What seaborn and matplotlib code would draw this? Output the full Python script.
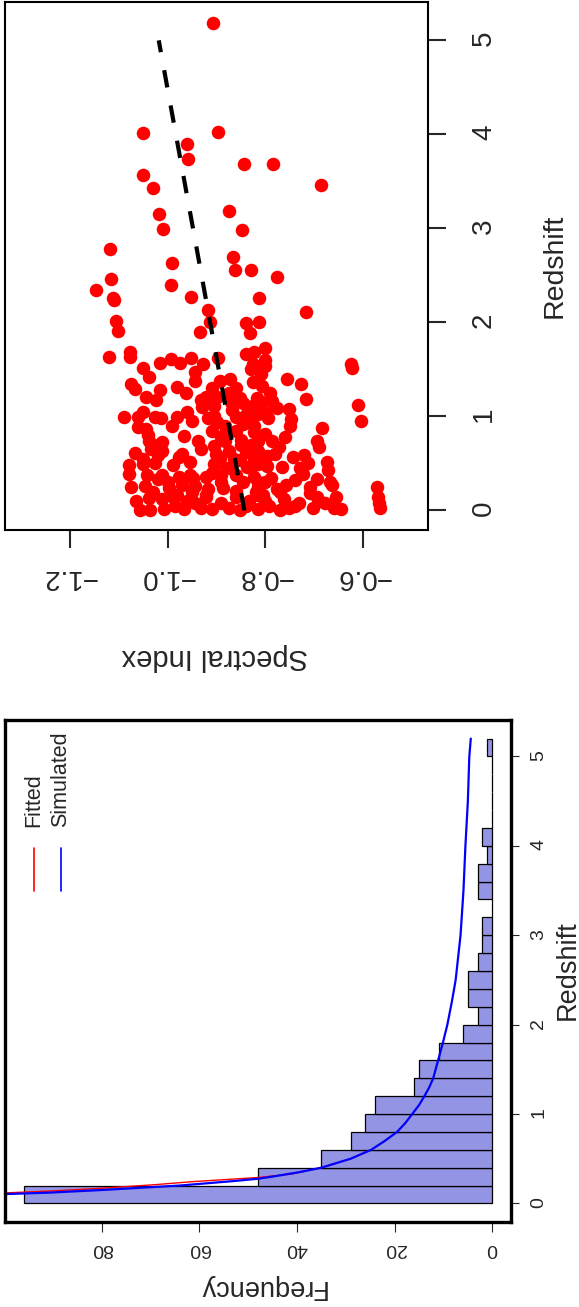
import numpy as np
import pandas as pd
import seaborn as sns
import matplotlib
matplotlib.use('Agg')
import matplotlib.pyplot as plt

# scatter: spectral index vs redshift
spec_idx = [-0.907, -1.051, -0.897, -0.961, -0.958, -1.050, -0.843, -0.785, -1.030, -0.687,
            -1.017, -0.874, -1.010, -0.847, -1.118, -0.866, -0.991, -0.863, -0.830, -0.776,
            -1.116, -1.146, -0.992, -1.112, -1.109, -0.953, -0.814, -0.718, -0.917, -1.106,
            -0.913, -0.839, -0.814, -1.102, -0.934, -0.832, -1.119, -1.077, -1.076, -1.015,
            -0.992, -0.974, -0.953, -0.928, -0.896, -0.839, -0.823, -0.801, -0.826, -0.801,
            -0.626, -0.624, -1.051, -1.037, -0.943, -0.943, -0.892, -0.872, -0.756, -0.728,
            -1.074, -1.067, -0.980, -0.962, -1.015, -1.044, -1.023, -0.932, -0.922, -0.853,
            -0.807, -0.817, -0.786, -0.777, -0.751, -0.718, -0.906, -0.868, -0.836, -1.088,
            -1.050, -1.060, -1.026, -1.013, -0.980, -0.917, -0.898, -0.860, -0.830, -0.815,
            -0.794, -0.747, -0.604, -0.610, -0.685, -1.060, -1.043, -0.966, -0.909, -0.860,
            -0.823, -0.815, -0.786, -0.773, -0.694, -0.690, -1.038, -1.011, -0.938, -0.932,
            -0.906, -0.883, -0.849, -0.815, -1.066, -1.034, -1.011, -0.977, -0.955, -0.892,
            -0.853, -0.823, -0.796, -0.743, -0.721, -0.713, -0.675, -1.079, -1.079, -1.050,
            -1.026, -1.011, -1.019, -0.977, -0.955, -0.921, -0.890, -0.872, -0.838, -0.823,
            -0.796, -0.789, -0.766, -0.740, -0.724, -0.694, -0.672, -0.668, -1.074, -1.047,
            -0.996, -0.970, -0.943, -0.917, -0.886, -0.860, -0.815, -0.777, -0.758, -0.709,
            -0.664, -0.573, -1.064, -1.057, -1.038, -1.036, -1.011, -1.007, -0.989, -0.985,
            -0.966, -0.943, -0.932, -0.921, -0.909, -0.890, -0.875, -0.860, -0.853, -0.834,
            -0.815, -0.804, -0.792, -0.770, -0.762, -0.751, -0.732, -0.702, -0.694, -0.679,
            -0.660, -0.656, -0.645, -0.570, -0.566, -0.568, -0.890, -0.906, -0.875, -0.890,
            -0.883, -0.845, -0.823, -0.815, -0.815, -0.815, -0.830, -0.800, -0.800, -0.845,
            -0.860, -0.921, -0.981, -0.947, -0.989, -1.019, -1.042, -0.845, -0.823, -0.875,
            -0.898, -0.842, -0.800, -0.826,
            -0.905, -0.880, -0.870, -0.900, -0.865, -0.880, -0.910, -0.850, -0.840, -0.830,
            -0.820, -0.800, -0.840, -0.960, -0.950, -1.000, -1.030, -1.050, -1.040, -1.020,
            -0.970, -0.990, -0.950, -0.930, -0.960, -0.780, -0.760, -0.750, -0.770, -0.730,
            -0.710, -0.690, -0.740, -0.810, -0.830, -0.800, -0.860, -0.910, -0.790, -0.810]
redshift = [5.18, 4.015, 4.03, 3.90, 3.74, 3.57, 3.69, 3.69, 3.43, 3.46,
            3.15, 3.18, 2.99, 2.98, 2.78, 2.70, 2.63, 2.56, 2.56, 2.48,
            2.46, 2.35, 2.40, 2.26, 2.24, 2.27, 2.26, 2.11, 2.13, 2.01,
            2.00, 1.99, 2.00, 1.91, 1.90, 1.89, 1.63, 1.69, 1.63, 1.57,
            1.61, 1.57, 1.62, 1.56, 1.62, 1.66, 1.69, 1.73, 1.56, 1.54,
            1.56, 1.51, 1.51, 1.42, 1.47, 1.38, 1.38, 1.40, 1.40, 1.34,
            1.35, 1.29, 1.31, 1.25, 1.28, 1.21, 1.17, 1.17, 1.21, 1.20,
            1.32, 1.20, 1.16, 1.09, 1.08, 1.19, 1.11, 1.07, 1.06, 0.99,
            1.05, 0.996, 0.99, 0.98, 0.99, 0.98, 0.94, 0.996, 0.98, 1.03,
            0.98, 0.97, 0.95, 1.12, 0.875, 0.886, 0.87, 0.795, 0.85, 0.85,
            0.83, 0.74, 0.74, 0.67, 0.74, 0.67, 0.74, 0.73, 0.74, 0.65,
            0.69, 0.74, 0.70, 0.63, 0.61, 0.65, 0.63, 0.565, 0.52, 0.56,
            0.54, 0.56, 0.58, 0.57, 0.59, 0.50, 0.51, 0.48, 0.39, 0.49,
            0.50, 0.38, 0.33, 0.36, 0.38, 0.36, 0.38, 0.45, 0.46, 0.36,
            0.47, 0.34, 0.46, 0.32, 0.39, 0.33, 0.43, 0.30, 0.25, 0.26,
            0.24, 0.27, 0.26, 0.23, 0.24, 0.21, 0.25, 0.23, 0.27, 0.19,
            0.27, 0.25, 0.10, 0.01, 0.13, 0.004, 0.12, 0.02, 0.14, 0.05,
            0.02, 0.08, 0.03, 0.14, 0.02, 0.08, 0.03, 0.14, 0.01, 0.10,
            0.02, 0.16, 0.05, 0.01, 0.12, 0.03, 0.08, 0.03, 0.14, 0.08,
            0.03, 0.14, 0.02, 0.14, 0.03, 0.08, 0.30, 0.49, 0.63, 0.78,
            0.90, 0.92, 0.90, 0.49, 0.30, 0.16, 0.70, 0.81, 0.30, 0.30,
            0.38, 0.16, 0.16, 0.34, 0.48, 0.59, 0.38, 1.14, 1.12, 1.25,
            1.21, 1.00, 1.05, 1.37,
            1.00, 0.85, 1.15, 0.60, 0.55, 0.45, 0.40, 0.75, 0.62, 0.45,
            0.20, 0.10, 0.05, 0.10, 0.20, 0.30, 0.20, 0.55, 0.80, 0.70,
            0.60, 0.90, 0.95, 1.10, 1.05, 0.60, 0.78, 0.90, 0.20, 0.45,
            0.25, 0.10, 0.05, 1.45, 1.50, 1.60, 1.30, 1.30, 1.25, 1.15]

# fitted trend line
trend_z = [0, 5]
trend_si = [-0.843, -1.018]

# histogram of redshift
bin_edges = [round(0.2 * i, 1) for i in range(27)]
bin_counts = [96, 48, 35, 29, 26, 24, 16, 15, 11, 6, 3, 5, 5, 3, 2, 2, 0, 3, 3, 1, 2, 0, 0, 0, 0, 1]

# model curves (frequency vs redshift)
sim_z = [0.09, 0.104, 0.12, 0.15, 0.2, 0.25, 0.276, 0.3, 0.35, 0.4, 0.45, 0.5, 0.6, 0.7,
         0.8, 0.9, 1.0, 1.1, 1.2, 1.3, 1.4, 1.5, 1.6, 1.8, 2.0, 2.25, 2.5, 2.75, 3.0,
         3.25, 3.5, 3.75, 4.0, 4.25, 4.5, 4.75, 5.0, 5.2]
sim_f = [112, 100, 91, 80, 64, 53, 48, 45, 39.5, 35, 32, 29, 24.8, 22, 19.5, 17.8, 16.4,
         15.0, 13.9, 12.9, 12.1, 11.6, 11.1, 10.1, 9.2, 8.3, 7.5, 7.0, 6.5, 6.2, 5.9, 5.7,
         5.5, 5.25, 5.0, 4.85, 4.7, 4.4]
fit_z = [0.10, 0.117, 0.14, 0.17, 0.21, 0.242, 0.29, 0.33, 0.4, 0.45, 0.5, 0.6]
fit_f = [115, 100, 90, 80, 69, 61.8, 48, 41, 35, 32, 29, 24.8]

spec_ticks = [-1.2, -1.0, -0.8, -0.6]
z_ticks = [0, 1, 2, 3, 4, 5]
freq_ticks = [0, 20, 40, 60, 80]

sns.set_style('white')
plt.rcParams['font.family'] = ['Liberation Sans', 'DejaVu Sans']

W, H = 579, 1307
fig = plt.figure(figsize=(W / 100, H / 100), dpi=100)

def px_axes(l, r, t, b):
    return fig.add_axes([l / W, 1 - b / H, (r - l) / W, (b - t) / H])

# ---- top panel: scatter (drawn rotated) ----
ax1 = px_axes(5, 428, 2, 530)
df = pd.DataFrame({'si': spec_idx, 'z': redshift})
sns.scatterplot(data=df, x='si', y='z', color='red', s=95, linewidth=0, ax=ax1)
sns.lineplot(x=trend_si, y=trend_z, sort=False, color='black', lw=3, ax=ax1)
ax1.lines[-1].set_dashes((4.2, 4.4))
ax1.set_xlim(-1.332, -0.468)
ax1.set_ylim(-0.208, 5.408)
ax1.set_xticks(spec_ticks)
ax1.set_xticklabels(['\u2212%.1f' % abs(v) for v in spec_ticks])
ax1.set_yticks(z_ticks)
ax1.set_yticklabels([str(v) for v in z_ticks])
ax1.yaxis.tick_right()
ax1.tick_params(axis='x', bottom=True, direction='out', length=13, width=1.5,
                labelrotation=180, labelsize=20, pad=11.5)
ax1.tick_params(axis='y', right=True, left=False, direction='out', length=13, width=1.5,
                labelrotation=90, labelsize=20, pad=18)
for sp in ax1.spines.values():
    sp.set_linewidth(1.5)
    sp.set_color('black')
ax1.set_xlabel('')
ax1.set_ylabel('')
fig.text(555 / W, 1 - 266 / H, 'Redshift', rotation=90, fontsize=20.5, ha='center', va='center')
fig.text(215 / W, 1 - 657 / H, 'Spectral Index', rotation=180, fontsize=21, ha='center', va='center')

# ---- bottom panel: histogram (drawn rotated) ----
ax2 = px_axes(5, 511, 720, 1222)
mids = [(bin_edges[i] + bin_edges[i + 1]) / 2 for i in range(len(bin_counts))]
sns.histplot(y=mids, weights=bin_counts, bins=bin_edges, color='#9394E3', alpha=1,
             edgecolor='black', linewidth=0.9, ax=ax2)
sns.lineplot(x=fit_f, y=fit_z, sort=False, color='red', lw=1, ax=ax2)
sns.lineplot(x=sim_f, y=sim_z, sort=False, color='blue', lw=1.6, ax=ax2)
ax2.set_xlim(99.84, -3.84)
ax2.set_ylim(-0.208, 5.408)
ax2.set_xticks(freq_ticks)
ax2.set_xticklabels([str(v) for v in freq_ticks])
ax2.set_yticks(z_ticks)
ax2.set_yticklabels([str(v) for v in z_ticks])
ax2.yaxis.tick_right()
ax2.tick_params(axis='x', bottom=True, direction='out', length=7, width=0.8,
                labelrotation=180, labelsize=14, pad=6)
ax2.tick_params(axis='y', right=True, left=False, direction='out', length=6, width=0.8,
                labelrotation=90, labelsize=14, pad=8)
for sp in ax2.spines.values():
    sp.set_linewidth(2.4)
    sp.set_color('black')
ax2.set_xlabel('')
ax2.set_ylabel('')

# legend, drawn by hand because it is rotated
for xa, col, lab in [(0.0573, 'red', 'Fitted'), (0.1107, 'blue', 'Simulated')]:
    ax2.plot([xa, xa], [0.659, 0.745], color=col, lw=1.2, transform=ax2.transAxes)
    ax2.text(xa, 0.787, lab, rotation=90, rotation_mode='anchor', ha='left', va='center',
             fontsize=15.5, transform=ax2.transAxes)

fig.text(568 / W, 1 - 970 / H, 'Redshift', rotation=90, fontsize=19.5, ha='center', va='center')
fig.text(262 / W, 1 - 1287 / H, 'Frequency', rotation=180, fontsize=19.5, ha='center', va='center')

fig.savefig('out.png', dpi=100)
